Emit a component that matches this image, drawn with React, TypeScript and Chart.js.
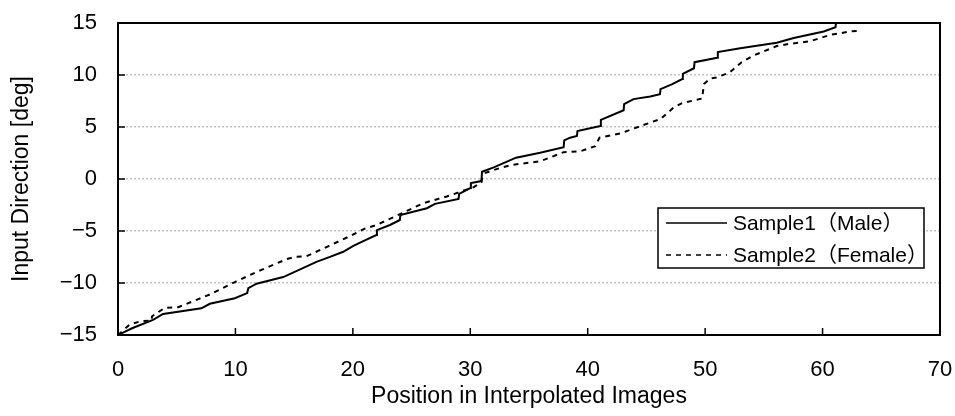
import React, { useEffect, useRef } from "react";
import { Chart, registerables } from "chart.js";

Chart.register(...registerables);

// Sample1 (Male) – solid line
const s1X = [0, 1.2, 2.98, 3.84, 7.1, 7.82, 9.95, 11.0, 11.1, 11.8, 14.07, 16.9, 18.05, 19.18, 20.04, 20.89, 22.0, 22.05, 23.16, 24.0, 24.05, 26.3, 27.0, 29.0, 29.05, 30.0, 30.05, 30.95, 31.0, 32.0, 33.9, 35.95, 37.95, 38.0, 38.5, 39.08, 39.13, 41.07, 41.12, 43.06, 43.1, 43.9, 45.33, 46.15, 46.2, 47.2, 48.05, 48.1, 49.05, 49.1, 51.03, 51.08, 52.99, 56.1, 57.54, 60.1, 61.1, 61.15];
const s1Y = [-15, -14.35, -13.55, -12.97, -12.43, -12.0, -11.46, -10.97, -10.49, -10.07, -9.43, -7.97, -7.49, -7.0, -6.42, -5.97, -5.39, -4.91, -4.42, -3.94, -3.46, -2.81, -2.39, -1.91, -1.43, -0.87, -0.39, -0.2, 0.7, 1.12, 2.05, 2.52, 3.05, 3.71, 3.97, 4.13, 4.61, 5.09, 5.68, 6.61, 7.19, 7.68, 7.94, 8.16, 8.64, 9.13, 9.61, 10.1, 10.65, 11.23, 11.65, 12.2, 12.58, 13.1, 13.55, 14.19, 14.6, 15.0];

// Sample2 (Female) – dashed line
const s2X = [0, 0.99, 2.0, 2.84, 2.9, 3.98, 5.12, 7.82, 9.95, 11.8, 14.35, 15.06, 16.05, 17.8, 19.75, 20.3, 21.0, 22.03, 24.6, 26.0, 28.0, 30.3, 30.95, 31.0, 31.3, 32.54, 33.67, 35.95, 37.95, 39.37, 40.65, 41.0, 42.8, 44.5, 46.2, 47.32, 48.03, 49.74, 49.9, 50.45, 51.0, 52.1, 53.1, 54.1, 56.1, 57.2, 58.9, 60.7, 62.4, 63.0, 63.05];
const s2Y = [-15, -14.0, -13.65, -13.62, -13.2, -12.39, -12.33, -11.1, -9.91, -8.94, -7.71, -7.49, -7.43, -6.52, -5.49, -5.17, -4.78, -4.42, -3.07, -2.32, -1.68, -0.78, -0.3, 0.1, 0.6, 1.06, 1.38, 1.7, 2.58, 2.67, 3.16, 3.97, 4.39, 5.09, 5.77, 6.87, 7.29, 7.74, 9.13, 9.68, 9.77, 10.26, 11.23, 11.87, 12.78, 13.0, 13.23, 13.87, 14.19, 14.25, 14.6];

const seriesLabels = ["Sample1（Male）", "Sample2（Female）"];
const xTitle = "Position in Interpolated Images";
const yTitle = "Input Direction [deg]";
const xMin = 0, xMax = 70, xStep = 10;
const yMin = -15, yMax = 15, yStep = 5;

const FONT = '"Liberation Sans", Arial, "Noto Sans CJK JP", sans-serif';

const framePlugin = {
  id: "frameAndLegend",
  afterDatasetsDraw(chart: any) {
    const { ctx, chartArea, scales } = chart;
    const { left, right, top, bottom } = chartArea;
    ctx.save();
    // inward ticks
    ctx.strokeStyle = "#000";
    ctx.lineWidth = 1.5;
    ctx.beginPath();
    scales.y.ticks.forEach((t: any) => {
      const py = scales.y.getPixelForValue(t.value);
      ctx.moveTo(left, py);
      ctx.lineTo(left + 7, py);
    });
    scales.x.ticks.forEach((t: any) => {
      const px = scales.x.getPixelForValue(t.value);
      ctx.moveTo(px, bottom);
      ctx.lineTo(px, bottom - 7);
    });
    ctx.stroke();
    // frame
    ctx.lineWidth = 2;
    ctx.strokeRect(left, top, right - left, bottom - top);

    // legend
    const bx = 658, by = 208, bw = 266, bh = 60;
    ctx.fillStyle = "#fff";
    ctx.fillRect(bx, by, bw, bh);
    ctx.lineWidth = 1.5;
    ctx.strokeStyle = "#000";
    ctx.strokeRect(bx, by, bw, bh);
    ctx.font = `21px ${FONT}`;
    ctx.textBaseline = "middle";
    ctx.textAlign = "left";
    ctx.fillStyle = "#000";
    chart.data.datasets.forEach((ds: any, i: number) => {
      const ly = by + 15 + i * 32;
      ctx.beginPath();
      ctx.lineWidth = 1.5;
      ctx.setLineDash(ds.borderDash || []);
      ctx.moveTo(bx + 8, ly);
      ctx.lineTo(bx + 69, ly);
      ctx.stroke();
      ctx.setLineDash([]);
      ctx.fillText(ds.label, bx + 75, ly + 1);
    });
    ctx.restore();
  },
};

export default function App() {
  const ref = useRef<HTMLCanvasElement>(null);
  useEffect(() => {
    const canvas = ref.current!;
    const chart = new Chart(canvas, {
      type: "scatter",
      data: {
        datasets: [
          {
            label: seriesLabels[0],
            data: s1X.map((x, i) => ({ x, y: s1Y[i] })),
            showLine: true,
            borderColor: "#000",
            borderWidth: 2,
            pointRadius: 0,
            tension: 0,
            fill: false,
          },
          {
            label: seriesLabels[1],
            data: s2X.map((x, i) => ({ x, y: s2Y[i] })),
            showLine: true,
            borderColor: "#000",
            borderWidth: 2,
            borderDash: [5, 5],
            pointRadius: 0,
            tension: 0,
            fill: false,
          },
        ],
      },
      options: {
        animation: false,
        responsive: false,
        layout: { padding: { left: 0, right: 15, top: 23, bottom: 0 } },
        plugins: { legend: { display: false }, tooltip: { enabled: false } },
        scales: {
          x: {
            type: "linear",
            min: xMin,
            max: xMax,
            ticks: { stepSize: xStep, padding: 22, color: "#000", font: { family: FONT, size: 22 } },
            grid: { display: false, drawTicks: false },
            border: { display: false },
            title: { display: true, text: xTitle, color: "#000", font: { family: FONT, size: 23 }, padding: { top: 0, bottom: 6 } },
            afterFit: (s: any) => {
              s.height = 81;
              s.paddingLeft = 0;
              s.paddingRight = 0;
            },
          },
          y: {
            type: "linear",
            min: yMin,
            max: yMax,
            ticks: {
              stepSize: yStep,
              padding: 21,
              color: "#000",
              font: { family: FONT, size: 22 },
              callback: (v: any) => (v < 0 ? "\u2212" + Math.abs(v) : String(v)),
            },
            grid: { color: "#c4c4c4", lineWidth: 1.5, drawTicks: false },
            border: { display: false, dash: [2, 2] },
            title: { display: true, text: yTitle, color: "#000", font: { family: FONT, size: 23 }, padding: { top: 8, bottom: 0 } },
            afterFit: (s: any) => {
              s.width = 118;
              s.paddingTop = 0;
              s.paddingBottom = 0;
            },
          },
        },
      },
      plugins: [framePlugin],
    });
    return () => chart.destroy();
  }, []);
  return (
    <div style={{ position: "absolute", left: 0, top: 0, width: 955, height: 416, background: "#fff" }}>
      <canvas ref={ref} width={955} height={416} />
    </div>
  );
}
